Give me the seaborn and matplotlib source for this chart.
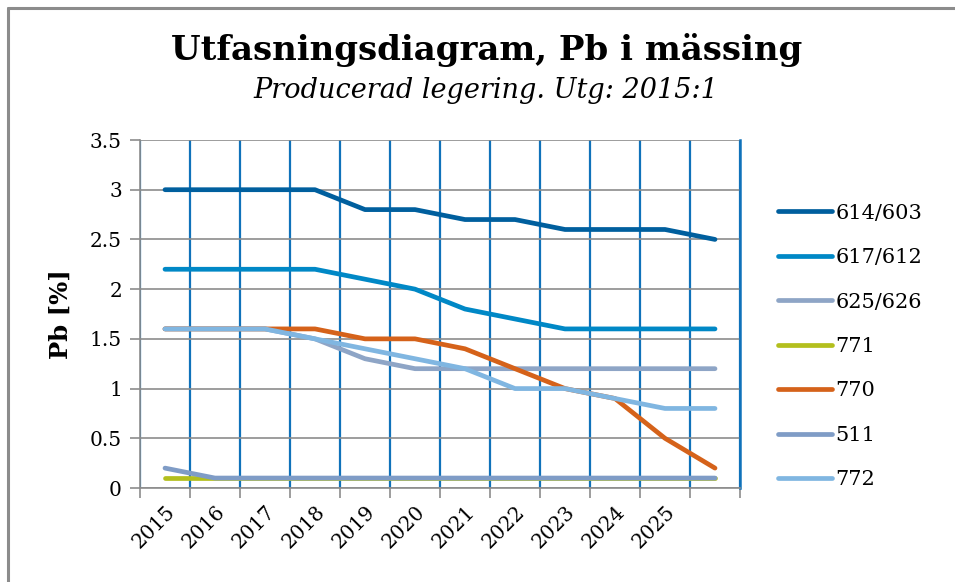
import matplotlib
matplotlib.use("Agg")
import matplotlib.pyplot as plt
from matplotlib.lines import Line2D
from matplotlib.ticker import FixedLocator, NullFormatter
import seaborn as sns
import pandas as pd
import numpy as np

# ---- data ----
years = ["2015", "2016", "2017", "2018", "2019", "2020", "2021", "2022", "2023", "2024", "2025", ""]
series_names = ["614/603", "617/612", "625/626", "771", "770", "511", "772"]
s614_603 = [3.0, 3.0, 3.0, 3.0, 2.8, 2.8, 2.7, 2.7, 2.6, 2.6, 2.6, 2.5]
s617_612 = [2.2, 2.2, 2.2, 2.2, 2.1, 2.0, 1.8, 1.7, 1.6, 1.6, 1.6, 1.6]
s625_626 = [1.6, 1.6, 1.6, 1.5, 1.3, 1.2, 1.2, 1.2, 1.2, 1.2, 1.2, 1.2]
s771 = [0.1, 0.1, 0.1, 0.1, 0.1, 0.1, 0.1, 0.1, 0.1, 0.1, 0.1, 0.1]
s770 = [1.6, 1.6, 1.6, 1.6, 1.5, 1.5, 1.4, 1.2, 1.0, 0.9, 0.5, 0.2]
s511 = [0.2, 0.1, 0.1, 0.1, 0.1, 0.1, 0.1, 0.1, 0.1, 0.1, 0.1, 0.1]
s772 = [1.6, 1.6, 1.6, 1.5, 1.4, 1.3, 1.2, 1.0, 1.0, 0.9, 0.8, 0.8]
series_values = [s614_603, s617_612, s625_626, s771, s770, s511, s772]
colors = ["#005F9E", "#0088C6", "#8EA5C6", "#B3BF1D", "#D5621A", "#7F9CC6", "#80B6E1"]
y_ticks = [0, 0.5, 1, 1.5, 2, 2.5, 3, 3.5]
y_tick_labels = ["0", "0.5", "1", "1.5", "2", "2.5", "3", "3.5"]

rows = []
for name, vals in zip(series_names, series_values):
    for i, v in enumerate(vals):
        rows.append({"pos": i, "pb": v, "alloy": name})
df = pd.DataFrame(rows)

sns.set_style("white")
plt.rcParams["font.family"] = ["DejaVu Serif"]
plt.rcParams["text.color"] = "black"
plt.rcParams["xtick.color"] = "black"
plt.rcParams["ytick.color"] = "black"
plt.rcParams["axes.labelcolor"] = "black"

fig = plt.figure(figsize=(9.55, 5.82), dpi=100)
ax = fig.add_axes([140 / 955, 94 / 582, 600 / 955, 348 / 582])

lw = 3.4
sns.lineplot(data=df, x="pos", y="pb", hue="alloy", hue_order=series_names,
             palette=colors, linewidth=lw, ax=ax, legend=False, sort=False)
for ln in ax.get_lines():
    ln.set_solid_capstyle("round")
    ln.set_solid_joinstyle("round")

n = len(years)
ax.set_xlim(-0.5, n - 0.5)
ax.set_ylim(0, 3.5)
ax.set_xticks(range(n))
ax.set_xticklabels(years, rotation=45, ha="right", rotation_mode="anchor", fontsize=14.5)
ax.xaxis.set_minor_locator(FixedLocator(np.arange(-0.5, n, 1.0)))
ax.xaxis.set_minor_formatter(NullFormatter())
ax.tick_params(axis="x", which="major", length=0, pad=10)
ax.tick_params(axis="x", which="minor", length=7, width=1.2, color="#8C8C8C", direction="out", bottom=True)
ax.set_yticks(y_ticks)
ax.set_yticklabels(y_tick_labels, fontsize=14.5)
ax.tick_params(axis="y", length=7, width=1.2, color="#8C8C8C", direction="out", left=True, pad=6)

ax.grid(False)
ax.yaxis.grid(True, which="major", color="#8C8C8C", linewidth=1.2)
ax.xaxis.grid(True, which="minor", color="#1072BA", linewidth=1.6)
ax.set_axisbelow(True)

ax.spines["top"].set_visible(False)
ax.spines["right"].set_color("#1072BA")
ax.spines["right"].set_linewidth(1.8)
ax.spines["left"].set_color("#8C8C8C")
ax.spines["left"].set_linewidth(1.2)
ax.spines["bottom"].set_color("#8C8C8C")
ax.spines["bottom"].set_linewidth(1.2)

ax.set_xlabel("")
ax.set_ylabel("Pb [%]", fontsize=17.5, fontweight="bold", labelpad=12)

fig.text(0.51, 1 - 50 / 582, "Utfasningsdiagram, Pb i mässing", ha="center", va="center",
         fontsize=24.5, fontweight="bold")
fig.text(0.509, 1 - 90 / 582, "Producerad legering. Utg: 2015:1", ha="center", va="center",
         fontsize=19.5, style="italic")

handles = [Line2D([0], [0], color=c, linewidth=lw, solid_capstyle="round") for c in colors]
fig.legend(handles, series_names, loc="center left", bbox_to_anchor=(778 / 955, 1 - 346.5 / 582),
           frameon=False, fontsize=15, handlelength=2.6, handletextpad=0.15,
           labelspacing=1.22, borderpad=0, borderaxespad=0)

# outer frame (left and top edges)
fig.add_artist(Line2D([7.5 / 955, 7.5 / 955], [0, 1 - 7.5 / 582], color="#8C8C8C", linewidth=2.2,
                      transform=fig.transFigure))
fig.add_artist(Line2D([7.5 / 955, 1], [1 - 7.5 / 582, 1 - 7.5 / 582], color="#8C8C8C", linewidth=2.2,
                      transform=fig.transFigure))

fig.savefig("out.png", dpi=100)
